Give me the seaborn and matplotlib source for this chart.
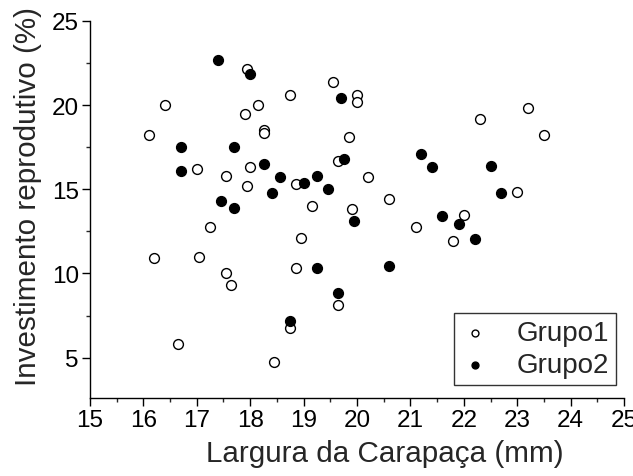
import matplotlib
matplotlib.use("Agg")
import matplotlib.pyplot as plt
from matplotlib.ticker import MultipleLocator
import seaborn as sns
import pandas as pd

g1_x = [16.1, 16.4, 16.2, 16.65, 17.0, 17.05, 17.25, 17.55, 17.55, 17.65,
        17.9, 17.95, 18.0, 17.95, 18.15, 18.25, 18.25, 18.45, 18.75, 18.75,
        18.85, 18.85, 18.95, 19.15, 19.55, 19.65, 19.65, 19.85, 19.9, 20.0,
        20.0, 20.2, 20.6, 21.1, 21.8, 22.0, 22.3, 23.0, 23.2, 23.5]
g1_y = [18.2, 20.0, 10.9, 5.8, 16.2, 10.95, 12.75, 15.8, 10.0, 9.3,
        19.5, 22.15, 16.3, 15.2, 20.0, 18.5, 18.35, 4.75, 20.6, 6.75,
        15.3, 10.3, 12.1, 14.0, 21.4, 16.7, 8.15, 18.1, 13.8, 20.6,
        20.2, 15.7, 14.4, 12.75, 11.9, 13.5, 19.2, 14.85, 19.8, 18.2]

g2_x = [16.7, 16.7, 17.4, 17.45, 17.7, 17.7, 18.0, 18.25, 18.4, 18.55,
        18.75, 19.0, 19.25, 19.25, 19.45, 19.65, 19.7, 19.75, 19.95, 20.6,
        21.2, 21.4, 21.6, 21.9, 22.2, 22.5, 22.7]
g2_y = [17.5, 16.1, 22.7, 14.3, 17.5, 13.9, 21.85, 16.5, 14.8, 15.7,
        7.2, 15.4, 15.8, 10.35, 15.0, 8.85, 20.45, 16.8, 13.1, 10.45,
        17.1, 16.35, 13.4, 12.95, 12.05, 16.4, 14.8]

groups = ["Grupo1", "Grupo2"]
x_label = "Largura da Carapaça (mm)"
y_label = "Investimento reprodutivo (%)"

df = pd.DataFrame({
    "x": g1_x + g2_x,
    "y": g1_y + g2_y,
    "grupo": [groups[0]] * len(g1_x) + [groups[1]] * len(g2_x),
})

sns.set_style("ticks")
plt.rcParams["font.family"] = ["Liberation Sans", "DejaVu Sans"]

fig = plt.figure(figsize=(6.33, 4.77), dpi=100)
ax = fig.add_axes([0.142, 0.1635, 0.844, 0.7905])

face = {"Grupo1": "white", "Grupo2": "black"}
for g in groups:
    sub = df[df["grupo"] == g]
    sns.scatterplot(data=sub, x="x", y="y", ax=ax, s=50, color=face[g],
                    edgecolor="black", linewidth=1.0, label=g, zorder=3)

ax.set_xlim(15, 25)
ax.set_ylim(2.6, 25)
ax.xaxis.set_major_locator(MultipleLocator(1))
ax.xaxis.set_minor_locator(MultipleLocator(0.5))
ax.yaxis.set_minor_locator(MultipleLocator(2.5))
ax.set_yticks([5, 10, 15, 20, 25])
ax.tick_params(axis="both", which="major", direction="out", length=6, width=1,
               labelsize=17.5, colors="black", pad=2)
ax.tick_params(axis="both", which="minor", direction="out", length=3, width=1)
for s in ["top", "right"]:
    ax.spines[s].set_visible(False)
for s in ["left", "bottom"]:
    ax.spines[s].set_linewidth(1.0)
    ax.spines[s].set_color("black")

ax.set_xlabel(x_label, fontsize=21.3, labelpad=6)
ax.set_ylabel(y_label, fontsize=21.3, labelpad=7)
ax.xaxis.label.set_x(0.552)
ax.yaxis.label.set_y(0.536)

leg = ax.legend(loc="lower right", fontsize=20, frameon=True, fancybox=False,
                edgecolor="black", markerscale=0.7, handletextpad=1.0,
                handlelength=1.0, borderpad=0.25, labelspacing=0.2,
                borderaxespad=0, bbox_to_anchor=(0.985, 0.035))
leg.get_frame().set_linewidth(1.0)

fig.savefig("out.png", dpi=100)
